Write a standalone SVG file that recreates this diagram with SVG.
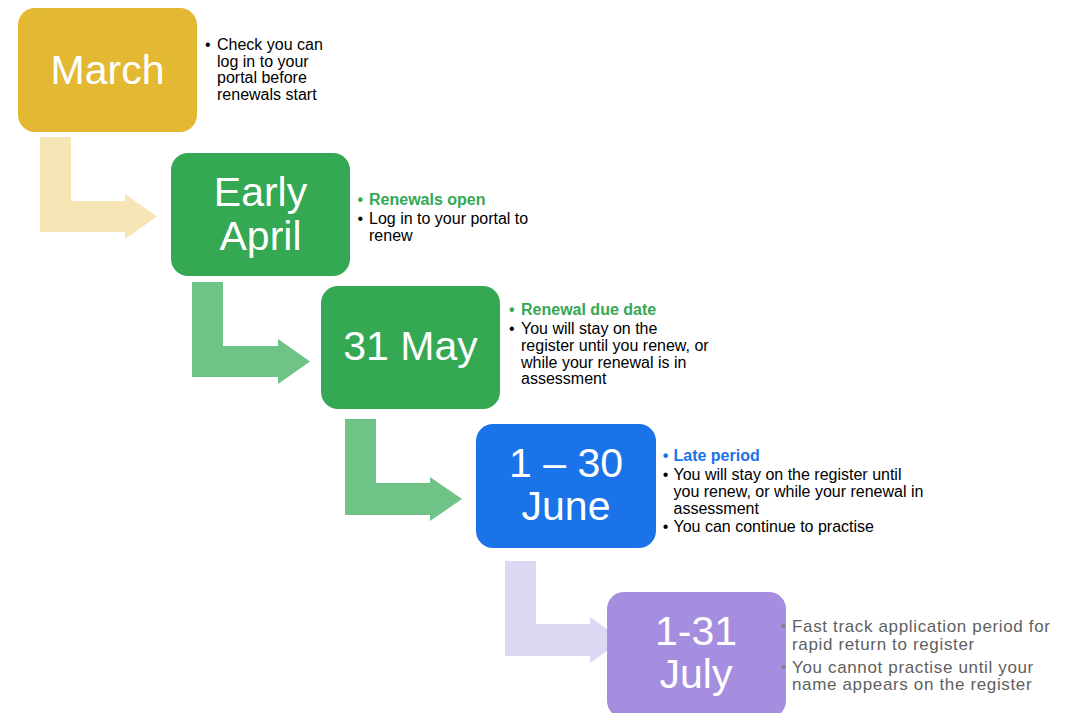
<svg xmlns="http://www.w3.org/2000/svg" width="1075" height="713" viewBox="0 0 1075 713">
<style>
.box-title{font-family:"Liberation Sans",Arial,sans-serif;font-size:41px;fill:#ffffff;text-anchor:middle}
.note{font-family:"Liberation Sans",Arial,sans-serif;font-size:16px;fill:#000000}
.bold-green{font-weight:bold;fill:#34A853}
.bold-blue{font-weight:bold;fill:#1A73E8}
.gray{fill:#5F5F5F;font-size:17px;letter-spacing:0.65px}
.gray-bullet{fill:#7F7F7F;font-size:14px}
</style>
<rect width="1075" height="713" fill="#ffffff"/>
<g id="connectors">
<path d="M40,137 H71 V201 H125 V194 L157,216.5 L125,239 V232 H40 Z" fill="#F6E5B5"/>
<path d="M192,282 H223 V346 H278 V339 L310,361.5 L278,384 V377 H192 Z" fill="#6FC387"/>
<path d="M345,419 H376 V483 H430 V477 L462,499 L430,521 V515 H345 Z" fill="#6FC387"/>
<path d="M505,561 H536 V624 H590 V617 L622,640 L590,663 V656 H505 Z" fill="#DED8F4"/>
</g>
<g id="march">
<rect x="18" y="8" width="179" height="124" rx="17" fill="#E3B934"/>
<text class="box-title" x="107.5" y="84">March</text>
<text class="note" x="205" y="50">•</text>
<text class="note" x="217" y="50">Check you can</text>
<text class="note" x="217" y="66.7">log in to your</text>
<text class="note" x="217" y="83.3">portal before</text>
<text class="note" x="217" y="100">renewals start</text>
</g>
<g id="early-april">
<rect x="171" y="153" width="179" height="123" rx="17" fill="#34A853"/>
<text class="box-title" x="260.5" y="206">Early</text>
<text class="box-title" x="260.5" y="250">April</text>
<text class="note bold-green" x="357.5" y="205">•</text>
<text class="note bold-green" x="369" y="205">Renewals open</text>
<text class="note" x="357.5" y="223.5">•</text>
<text class="note" x="369" y="223.5">Log in to your portal to</text>
<text class="note" x="369" y="240.5">renew</text>
</g>
<g id="may-31">
<rect x="321" y="286" width="179" height="123" rx="17" fill="#34A853"/>
<text class="box-title" x="410.5" y="360">31 May</text>
<text class="note bold-green" x="509" y="315">•</text>
<text class="note bold-green" x="521" y="315">Renewal due date</text>
<text class="note" x="509" y="334">•</text>
<text class="note" x="521" y="334">You will stay on the</text>
<text class="note" x="521" y="351">register until you renew, or</text>
<text class="note" x="521" y="367.5">while your renewal is in</text>
<text class="note" x="521" y="384">assessment</text>
</g>
<g id="june">
<rect x="476" y="424" width="180" height="124" rx="17" fill="#1A73E8"/>
<text class="box-title" x="566" y="477">1 – 30</text>
<text class="box-title" x="566" y="520">June</text>
<text class="note bold-blue" x="662.7" y="461">•</text>
<text class="note bold-blue" x="673.5" y="461">Late period</text>
<text class="note" x="662.7" y="480">•</text>
<text class="note" x="673.5" y="480">You will stay on the register until</text>
<text class="note" x="673.5" y="497">you renew, or while your renewal in</text>
<text class="note" x="673.5" y="513.5">assessment</text>
<text class="note" x="662.7" y="532">•</text>
<text class="note" x="673.5" y="532">You can continue to practise</text>
</g>
<g id="july">
<rect x="607" y="592" width="179" height="126" rx="17" fill="#A58EE0"/>
<text class="box-title" x="696" y="645">1-31</text>
<text class="box-title" x="696" y="688">July</text>
<text class="note gray-bullet" x="781" y="631">•</text>
<text class="note gray" x="792" y="632">Fast track application period for</text>
<text class="note gray" x="792" y="649.5">rapid return to register</text>
<text class="note gray-bullet" x="781" y="672">•</text>
<text class="note gray" x="792" y="673">You cannot practise until your</text>
<text class="note gray" x="792" y="690">name appears on the register</text>
</g>
</svg>
